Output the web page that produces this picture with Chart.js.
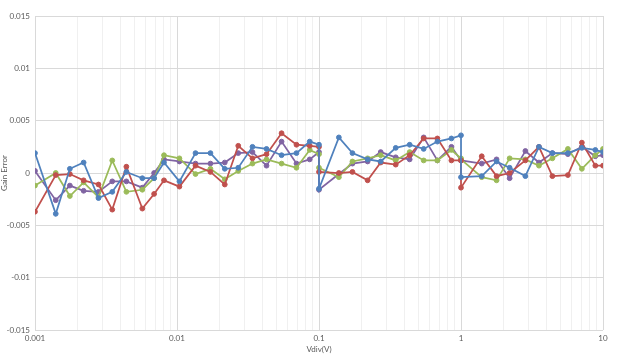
<!DOCTYPE html>
<html>
<head>
<meta charset="utf-8">
<script src="https://cdn.jsdelivr.net/npm/chart.js@4"></script>
<style>
  html, body { margin: 0; padding: 0; background: #fff; }
  #wrap { width: 617px; height: 362px; }
</style>
</head>
<body>
<div id="wrap"><canvas id="gain" width="617" height="362"></canvas></div>
<script>
// <-- Data -->
const vdiv = [0.001, 0.0014, 0.00176, 0.0022, 0.0028, 0.0035, 0.0044, 0.0057, 0.0069, 0.0081,
    0.0104, 0.0135, 0.0172, 0.0217, 0.027, 0.034, 0.0427, 0.0545, 0.0694, 0.086,
    0.1, 0.1, 0.138, 0.172, 0.22, 0.272, 0.347, 0.435, 0.546, 0.682, 0.856,
    1, 1, 1.4, 1.78, 2.2, 2.84, 3.54, 4.4, 5.66, 7.1, 8.83, 10];

const blueErr = [0.0019, -0.0039, 0.0004, 0.001, -0.0024, -0.0018, 0.0001, -0.0005, -0.0005, 0.001,
    -0.0008, 0.0019, 0.0019, 0.0004, 0.0005, 0.0025, 0.0023, 0.0017, 0.0019, 0.003,
    0.0027, -0.0015, 0.0034, 0.0019, 0.0013, 0.0011, 0.0024, 0.0027, 0.0023, 0.003, 0.0033,
    0.0036, -0.0004, -0.0003, 0.0011, 0.0005, -0.0003, 0.0025, 0.0019, 0.0019, 0.0024, 0.0022, 0.002];

const redErr = [-0.0037, -0.0002, -0.0001, -0.0007, -0.0011, -0.0035, 0.0006, -0.0034, -0.002, -0.0007,
    -0.0013, 0.0007, 0.0001, -0.0011, 0.0026, 0.0014, 0.0018, 0.0038, 0.0027, 0.0026,
    0.0025, 0.0001, 0.0, 0.0001, -0.0007, 0.001, 0.0008, 0.0017, 0.0033, 0.0033, 0.0012,
    0.0012, -0.0014, 0.0016, -0.0003, 0.0, 0.0012, 0.0025, -0.0003, -0.0002, 0.0029, 0.0007, 0.0007];

const greenErr = [-0.0012, 0.0, -0.0022, -0.0009, -0.0023, 0.0012, -0.0018, -0.0016, -0.0005, 0.0017,
    0.0014, -0.0001, 0.0004, -0.0006, 0.0002, 0.0009, 0.0013, 0.0009, 0.0005, 0.0022,
    0.0018, 0.0005, -0.0004, 0.0011, 0.0014, 0.0017, 0.0012, 0.002, 0.0012, 0.0012, 0.0022,
    0.0014, 0.0013, -0.0004, -0.0007, 0.0014, 0.0013, 0.0007, 0.0014, 0.0023, 0.0004, 0.0017, 0.0023];

const purpleErr = [0.0002, -0.0026, -0.0012, -0.0017, -0.0018, -0.0008, -0.0008, -0.0014, 0.0, 0.0013,
    0.0011, 0.0009, 0.0009, 0.001, 0.0019, 0.002, 0.0007, 0.003, 0.0009, 0.0013,
    0.002, -0.0016, -0.0001, 0.0009, 0.0011, 0.002, 0.0015, 0.0013, 0.0034, 0.0012, 0.0025,
    0.0012, 0.0012, 0.0009, 0.0013, -0.0005, 0.0021, 0.001, 0.0019, 0.0018, 0.0025, 0.0016, 0.0017];

const xTickValues = [0.001, 0.01, 0.1, 1, 10];
const xTickLabels = ['0.001', '0.01', '0.1', '1', '10'];
const yTickValues = [-0.015, -0.01, -0.005, 0, 0.005, 0.01, 0.015];
const yTickLabels = ['-0.015', '-0.01', '-0.005', '0', '0.005', '0.01', '0.015'];

// <-- Helpers -->
function pts(ys) { return ys.map((y, i) => ({ x: vdiv[i], y })); }
function isMajor(v) { return xTickValues.some(t => Math.abs(v / t - 1) < 1e-6); }

function series(label, ys, color) {
    return {
        label,
        data: pts(ys),
        borderColor: color,
        backgroundColor: color,
        borderWidth: 1.75,
        pointRadius: 2.4,
        pointBorderWidth: 1,
        pointBackgroundColor: color,
        pointBorderColor: color,
        tension: 0
    };
}

const font = { family: 'Lato, "Open Sans", sans-serif', size: 8 };

new Chart(document.getElementById('gain'), {
    type: 'line',
    data: {
        datasets: [
            series('Series1', blueErr, '#4F81BD'),
            series('Series2', redErr, '#C0504D'),
            series('Series3', greenErr, '#9BBB59'),
            series('Series4', purpleErr, '#8064A2')
        ]
    },
    options: {
        responsive: false,
        animation: false,
        devicePixelRatio: 1,
        layout: { padding: { top: 16, right: 14, bottom: 0, left: 0 } },
        plugins: { legend: { display: false }, tooltip: { enabled: false } },
        scales: {
            x: {
                type: 'logarithmic',
                min: 0.001,
                max: 10,
                border: { display: false },
                grid: {
                    drawTicks: false,
                    color: c => (c.tick && isMajor(c.tick.value)) ? '#D9D9D9' : '#F0F0F0'
                },
                // minor gridlines at 2..9 of every decade, labels only on decades
                afterBuildTicks: s => {
                    const t = [];
                    for (let d = 0.001; d < 10; d *= 10) {
                        for (let m = 1; m < 10; m++) t.push({ value: +(d * m).toPrecision(6) });
                    }
                    t.push({ value: 10 });
                    s.ticks = t;
                },
                afterFit: s => { s.height = 32; },
                ticks: {
                    autoSkip: false,
                    maxRotation: 0,
                    padding: 4,
                    color: '#595959',
                    font,
                    callback: v => {
                        const i = xTickValues.findIndex(t => Math.abs(v / t - 1) < 1e-6);
                        return i < 0 ? '' : xTickLabels[i];
                    }
                },
                title: { display: true, text: 'Vdiv(V)', color: '#595959', font, padding: { top: 2, bottom: 8 } }
            },
            y: {
                min: -0.015,
                max: 0.015,
                border: { display: false },
                grid: { drawTicks: false, color: '#D9D9D9' },
                afterBuildTicks: s => { s.ticks = yTickValues.map(v => ({ value: v })); },
                afterFit: s => { s.width = 35; },
                ticks: {
                    padding: 5,
                    color: '#595959',
                    font,
                    callback: (v, i) => yTickLabels[i]
                },
                title: { display: true, text: 'Gain Error', color: '#595959', font, padding: { top: 0, bottom: 0 } }
            }
        }
    }
});
</script>
</body>
</html>
